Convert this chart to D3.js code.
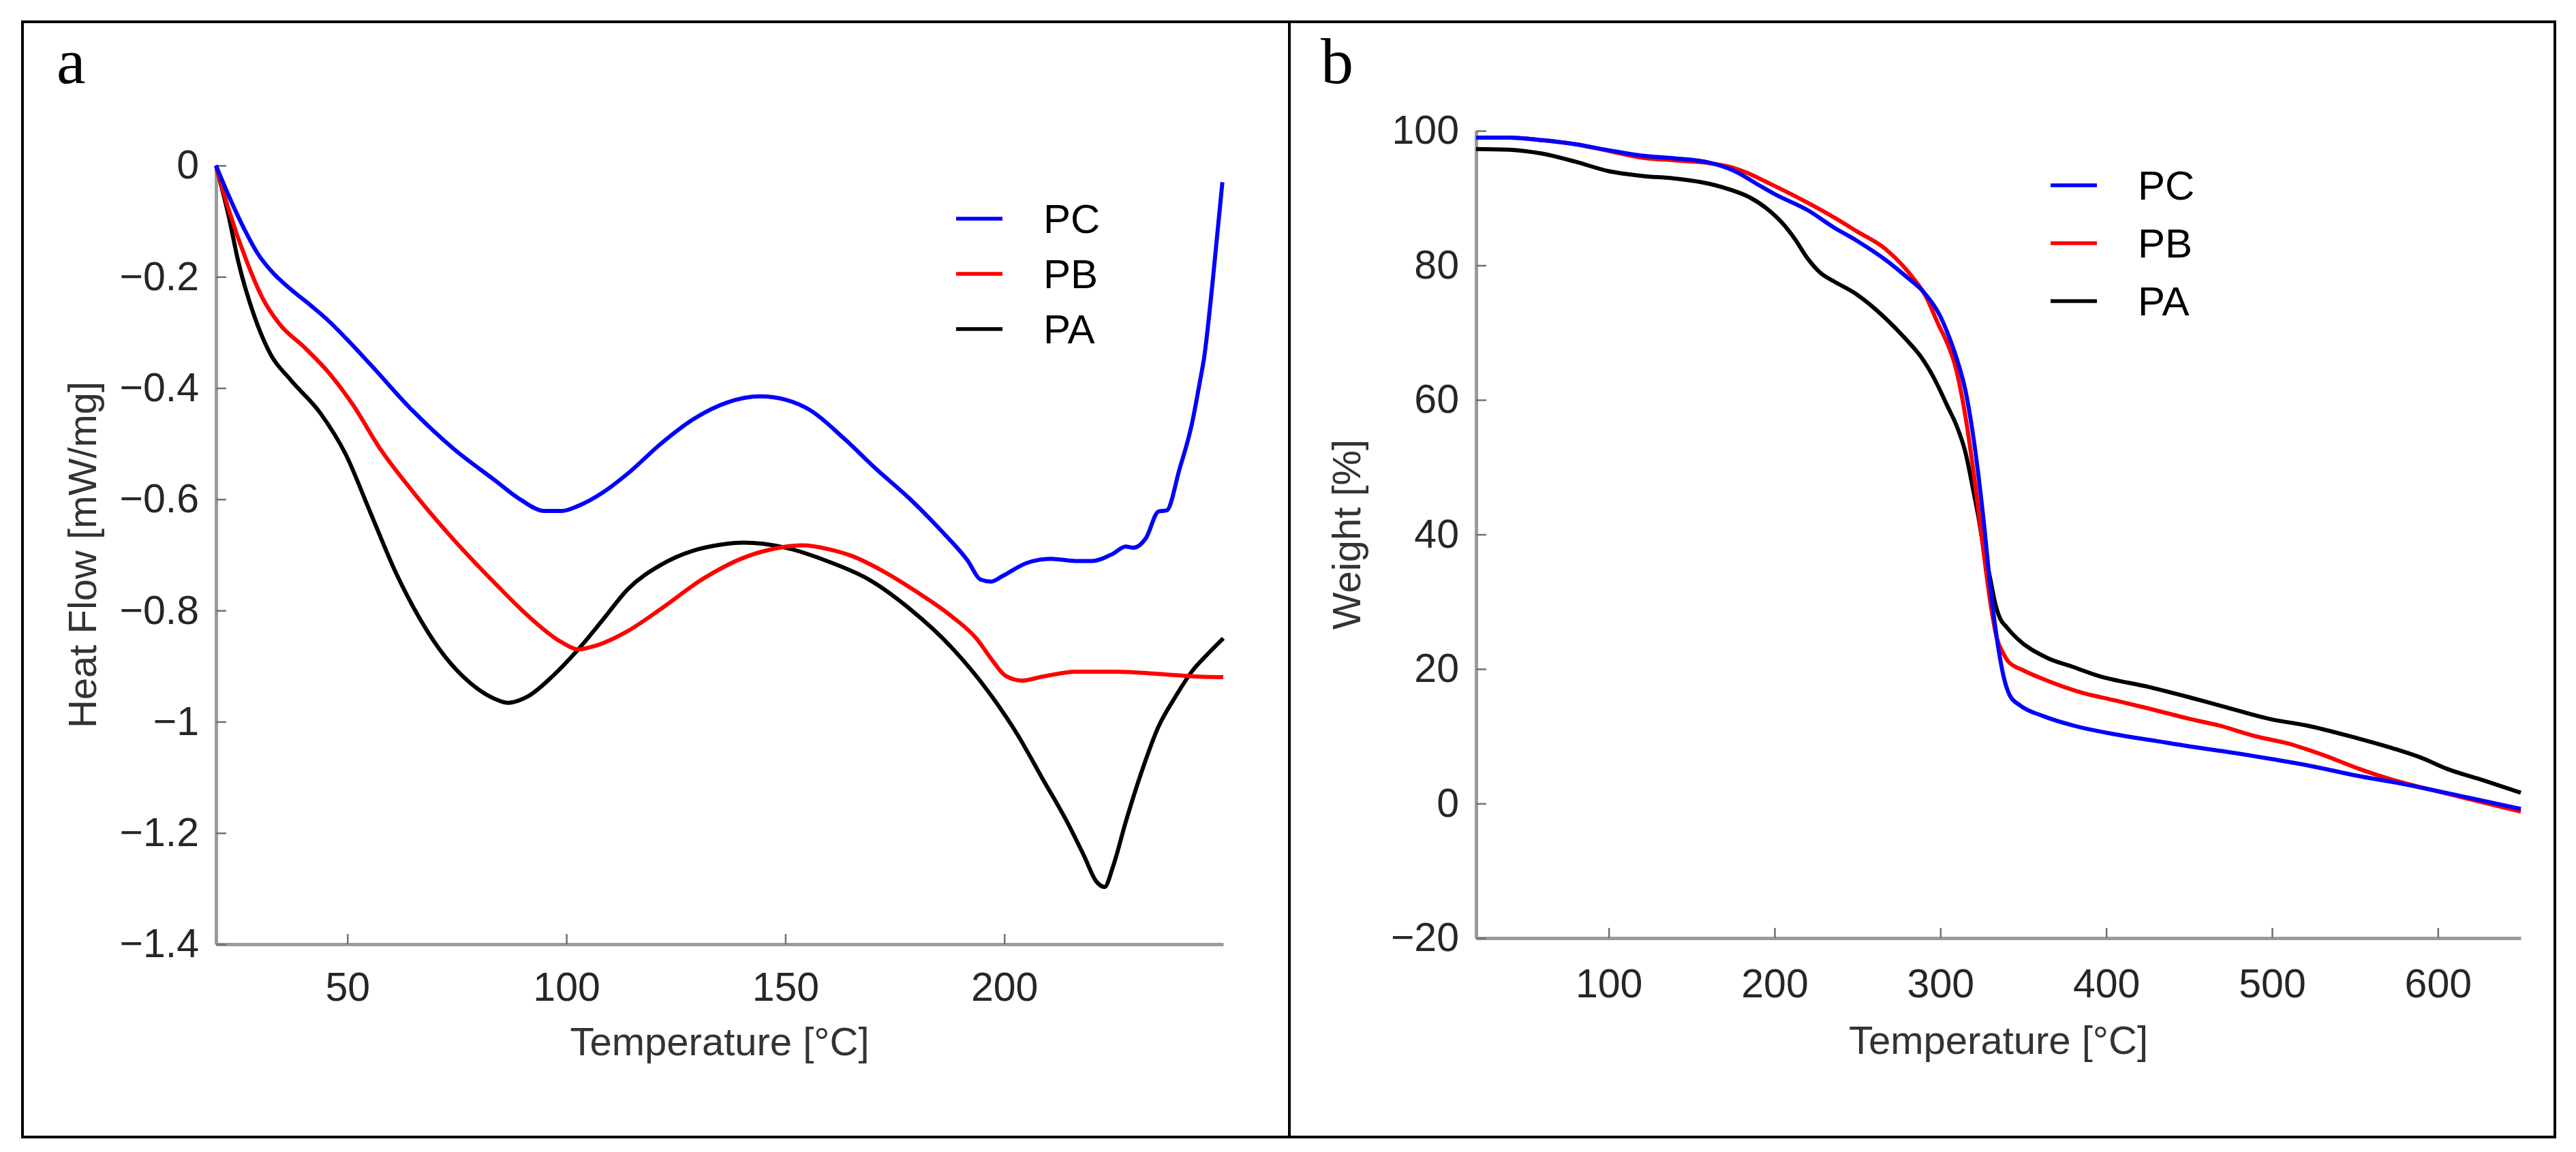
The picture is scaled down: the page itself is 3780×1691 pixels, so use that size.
<!DOCTYPE html>
<html>
<head>
<meta charset="utf-8">
<script src="https://cdn.jsdelivr.net/npm/d3@7"></script>
<style>
  body { margin: 0; background: #fff; }
</style>
</head>
<body>
<div id="chart"></div>
<script>
// series legend order and colours
const seriesNames = ["PC", "PB", "PA"];
const seriesColors = ["#0000ff", "#ff0000", "#000000"];

// panel a: DSC heat flow [mW/mg] vs temperature [°C]
const dscTicksX = [50, 100, 150, 200];
const dscTicksY = [0, -0.2, -0.4, -0.6, -0.8, -1, -1.2, -1.4];

const dscPC = [[20, 0], [23, -0.056], [26.5, -0.115], [29.5, -0.158], [33, -0.193], [37, -0.222],
  [42, -0.254], [45.8, -0.28], [49.6, -0.31], [55.3, -0.358], [64.8, -0.44], [74.2, -0.509],
  [83.7, -0.566], [89.4, -0.6], [95, -0.621], [99, -0.621], [102.7, -0.612], [108.3, -0.588],
  [114, -0.554], [121.6, -0.5], [129, -0.456], [136.7, -0.426], [144.3, -0.415], [150, -0.421],
  [155.7, -0.44], [163.3, -0.49], [170.8, -0.546], [178.4, -0.599], [186, -0.66], [191.7, -0.711],
  [194.5, -0.744], [197, -0.748], [199.6, -0.738], [205, -0.715], [210.6, -0.707], [216.3, -0.711],
  [220, -0.711], [224.8, -0.698], [227.7, -0.685], [229.5, -0.687], [232.4, -0.669], [235.2, -0.622],
  [237.1, -0.62], [240, -0.546], [242.8, -0.466], [244.7, -0.387], [245.6, -0.347], [247.5, -0.215],
  [249.8, -0.03]];

const dscPB = [[20, 0], [23, -0.082], [26.8, -0.168], [30.6, -0.238], [34.5, -0.285], [40.2, -0.327],
  [45.8, -0.373], [51.5, -0.433], [57.2, -0.506], [64.8, -0.585], [74.2, -0.672], [83.7, -0.751],
  [91.3, -0.81], [98.9, -0.857], [102.7, -0.87], [106.4, -0.864], [114, -0.837], [121.6, -0.797],
  [131, -0.744], [140.5, -0.705], [148, -0.688], [154, -0.683], [160, -0.69], [165.2, -0.702],
  [172.7, -0.731], [180.3, -0.768], [187.9, -0.81], [193.6, -0.85], [197.3, -0.89], [200.2, -0.917],
  [204, -0.926], [208.7, -0.919], [216.3, -0.91], [225.8, -0.91], [235.2, -0.914], [244.7, -0.919],
  [250, -0.92]];

const dscPA = [[20, 0], [23, -0.095], [25, -0.17], [28.8, -0.272], [32.5, -0.34], [37, -0.385],
  [43.9, -0.446], [49.6, -0.519], [55.3, -0.625], [61, -0.731], [66.7, -0.817], [72.3, -0.883],
  [78, -0.93], [83.7, -0.959], [86.6, -0.966], [91.3, -0.954], [97, -0.917], [102.7, -0.87],
  [108.3, -0.817], [114, -0.762], [121.6, -0.718], [129.2, -0.692], [135, -0.682], [140.5, -0.678],
  [150, -0.687], [159.5, -0.711], [169, -0.744], [178.4, -0.797], [187.9, -0.866], [197.3, -0.956],
  [203, -1.023], [208.7, -1.102], [214.4, -1.181], [218.2, -1.241], [221, -1.287], [222.9, -1.297],
  [224.8, -1.261], [227.7, -1.181], [231.4, -1.089], [235.2, -1.009], [239, -0.956], [242.8, -0.91],
  [246.6, -0.877], [250, -0.85]];

// panel b: TGA weight [%] vs temperature [°C]
const tgaTicksX = [100, 200, 300, 400, 500, 600];
const tgaTicksY = [100, 80, 60, 40, 20, 0, -20];

const tgaPC = [[20, 99.0], [40, 99.0], [60, 98.6], [80, 98.0], [100, 97.1], [120, 96.3], [140, 95.9],
  [160, 95.3], [176, 94.0], [190, 92.0], [200, 90.6], [220, 88.2], [236, 85.6], [250, 83.6],
  [267, 80.8], [280, 78.2], [290, 76.0], [300, 72.4], [305, 69.5], [310, 66.0], [315, 61.5],
  [321, 52.5], [326, 42.2], [330, 32.5], [335, 23.0], [338, 19.0], [342, 16.0], [348, 14.6],
  [362, 13.0], [380, 11.6], [405, 10.3], [430, 9.3], [450, 8.5], [470, 7.8], [500, 6.6],
  [521, 5.7], [552, 4.1], [575, 3.1], [595, 2.1], [620, 0.8], [650, -0.8]];

const tgaPB = [[20, 99.0], [40, 99.0], [60, 98.6], [80, 98.0], [100, 97.0], [120, 96.0], [140, 95.6],
  [160, 95.2], [175, 94.5], [184, 93.7], [195, 92.4], [205, 91.2], [220, 89.3], [236, 87.1],
  [250, 85.0], [267, 82.4], [283, 78.3], [291, 75.5], [299, 71.1], [304, 68.5], [309, 65.0],
  [315, 57.7], [321, 47.4], [327, 35.5], [331, 28.5], [334, 24.6], [338, 22.3], [341, 21.1],
  [350, 19.8], [362, 18.5], [385, 16.5], [404, 15.4], [426, 14.1], [450, 12.6], [468, 11.6],
  [490, 10.0], [510, 8.9], [531, 7.2], [552, 5.2], [573, 3.5], [590, 2.4], [605, 1.5],
  [625, 0.3], [650, -1.2]];

const tgaPA = [[20, 97.3], [40, 97.2], [60, 96.6], [80, 95.4], [100, 94.0], [120, 93.3], [140, 92.9],
  [157, 92.3], [170, 91.5], [185, 90.1], [195, 88.5], [205, 86.2], [212, 84.0], [220, 81.0],
  [228, 78.8], [236, 77.6], [250, 75.6], [267, 72.1], [280, 68.8], [288, 66.5], [296, 63.3],
  [304, 59.2], [310, 56.0], [315, 52.3], [320, 46.3], [323, 42.5], [326, 38.0], [330, 33.5],
  [333, 29.8], [336, 27.5], [340, 26.2], [346, 24.6], [364, 21.7], [380, 20.3], [395, 19.0],
  [426, 17.3], [450, 15.8], [468, 14.6], [500, 12.5], [521, 11.6], [550, 9.8], [573, 8.2],
  [590, 6.8], [605, 5.2], [628, 3.4], [650, 1.6]];

const W = 3780, H = 1691;
const sans = "'Liberation Sans', Arial, Helvetica, sans-serif";

const svg = d3.select("#chart")
  .append("svg")
  .attr("width", W)
  .attr("height", H)
  .style("display", "block");

svg.append("rect").attr("width", W).attr("height", H).attr("fill", "#fff");

function drawPanel(p) {
  const x = d3.scaleLinear().domain(p.xDomain).range([p.left, p.right]);
  const y = d3.scaleLinear().domain(p.yDomain).range([p.bottom, p.top]);
  const g = svg.append("g");

  const fmt = d3.format(".1~f");

  const gx = g.append("g")
    .attr("transform", `translate(0,${p.bottom})`)
    .call(d3.axisBottom(x).tickValues(p.xTicks).tickSize(-15).tickSizeOuter(0)
      .tickPadding(p.xPad).tickFormat(d3.format("d")));

  const gy = g.append("g")
    .attr("transform", `translate(${p.left},0)`)
    .call(d3.axisLeft(y).tickValues(p.yTicks).tickSize(-15).tickSizeOuter(0)
      .tickPadding(25).tickFormat(fmt));

  [gx, gy].forEach(a => {
    a.select(".domain").attr("stroke", "#9a9a9a").attr("stroke-width", 5);
    a.selectAll(".tick line").attr("stroke", "#707070").attr("stroke-width", 2.5);
    a.selectAll(".tick text")
      .attr("fill", "#262626")
      .style("font-family", sans)
      .style("font-size", "59px");
  });

  const line = d3.line()
    .x(d => x(d[0]))
    .y(d => y(d[1]))
    .curve(d3.curveMonotoneX);

  // black first, blue on top
  [2, 1, 0].forEach(i => {
    g.append("path")
      .datum(p.series[i])
      .attr("fill", "none")
      .attr("stroke", seriesColors[i])
      .attr("stroke-width", 6)
      .attr("stroke-linejoin", "round")
      .attr("d", line);
  });

  // axis titles
  g.append("text")
    .attr("x", (p.left + p.right) / 2)
    .attr("y", p.xTitleY)
    .attr("text-anchor", "middle")
    .attr("fill", "#333")
    .style("font-family", sans)
    .style("font-size", "58px")
    .text("Temperature [°C]");

  g.append("text")
    .attr("transform", `translate(${p.yTitleX},${(p.top + p.bottom) / 2}) rotate(-90)`)
    .attr("text-anchor", "middle")
    .attr("fill", "#333")
    .style("font-family", sans)
    .style("font-size", "58px")
    .text(p.yTitle);

  // legend
  const lg = g.append("g");
  seriesNames.forEach((name, i) => {
    const ly = p.legendY + i * p.legendStep;
    lg.append("line")
      .attr("x1", p.legendX).attr("x2", p.legendX + 68)
      .attr("y1", ly).attr("y2", ly)
      .attr("stroke", seriesColors[i])
      .attr("stroke-width", 5.5);
    lg.append("text")
      .attr("x", p.legendX + 128)
      .attr("y", ly + 21)
      .attr("fill", "#000")
      .style("font-family", sans)
      .style("font-size", "60px")
      .text(name);
  });

  // panel letter
  g.append("text")
    .attr("x", p.letterX)
    .attr("y", 122)
    .attr("fill", "#000")
    .style("font-family", "'Liberation Serif', 'Times New Roman', serif")
    .style("font-size", "96px")
    .text(p.letter);
}

drawPanel({
  letter: "a", letterX: 83,
  left: 317, right: 1795, top: 243, bottom: 1386,
  xDomain: [20, 250], yDomain: [-1.4, 0],
  xTicks: dscTicksX, yTicks: dscTicksY, xPad: 41,
  series: [dscPC, dscPB, dscPA],
  yTitle: "Heat Flow [mW/mg]", yTitleX: 141, xTitleY: 1549,
  legendX: 1403, legendY: 321, legendStep: 81
});

drawPanel({
  letter: "b", letterX: 1938,
  left: 2166, right: 3699, top: 192, bottom: 1377,
  xDomain: [20, 650], yDomain: [-20, 100],
  xTicks: tgaTicksX, yTicks: tgaTicksY, xPad: 45,
  series: [tgaPC, tgaPB, tgaPA],
  yTitle: "Weight [%]", yTitleX: 1996, xTitleY: 1547,
  legendX: 3009, legendY: 272, legendStep: 85
});

// outer frame and divider
svg.append("rect")
  .attr("x", 33).attr("y", 32)
  .attr("width", 3749 - 33).attr("height", 1669 - 32)
  .attr("fill", "none")
  .attr("stroke", "#000")
  .attr("stroke-width", 4);

svg.append("line")
  .attr("x1", 1892).attr("x2", 1892)
  .attr("y1", 32).attr("y2", 1669)
  .attr("stroke", "#000")
  .attr("stroke-width", 4);
</script>
</body>
</html>
